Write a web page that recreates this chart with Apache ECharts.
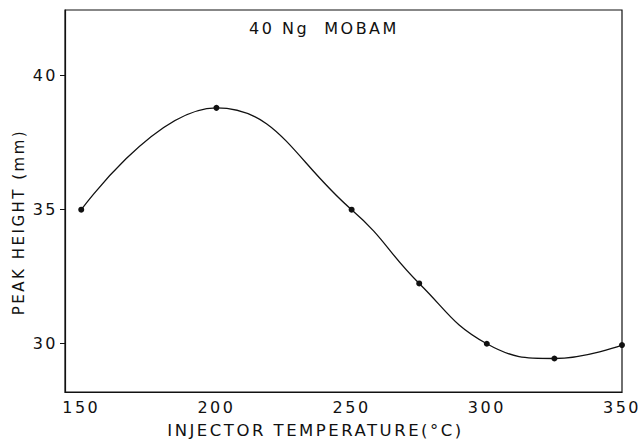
<!DOCTYPE html>
<html>
<head>
<meta charset="utf-8">
<script src="https://cdn.jsdelivr.net/npm/echarts@6/dist/echarts.min.js"></script>
<style>
  html, body { margin: 0; padding: 0; background: #fff; }
  #chart { width: 644px; height: 439px; }
  /* the original lettering is widely spaced */
  #chart text { letter-spacing: 2.5px; }
</style>
</head>
<body>
<div id="chart"></div>
<script>
// injector temperature (°C) vs peak height (mm)
var temps = [150, 200, 250, 275, 300, 325, 350];
var heights = [35.0, 38.8, 35.0, 32.25, 30.0, 29.45, 29.95];
var yTicks = [30, 35, 40];
var xTicks = [150, 200, 250, 300, 350];

var chart = echarts.init(document.getElementById('chart'), null, { renderer: 'svg' });

var font = '"DejaVu Sans", sans-serif';

var option = {
  animation: false,
  title: {
    text: '40 Ng  MOBAM',
    left: 244,
    top: 15,
    textStyle: { fontFamily: font, fontSize: 16, fontWeight: 'normal', color: '#111' }
  },
  // y title sits a bit below the plot's middle in the original
  graphic: [{
    type: 'text',
    x: 19,
    y: 222,
    rotation: Math.PI / 2,
    style: {
      text: 'PEAK HEIGHT (mm)',
      fontFamily: font,
      fontSize: 15,
      fill: '#111',
      align: 'center',
      verticalAlign: 'middle'
    }
  }],
  grid: {
    left: 65,
    right: 22,
    top: 10,
    bottom: 47,
    outerBoundsMode: 'none',
    show: true,
    borderColor: '#111',
    borderWidth: 1.2
  },
  xAxis: {
    type: 'value',
    min: 144,
    max: 350,
    interval: 50,
    name: 'INJECTOR TEMPERATURE(°C)',
    nameLocation: 'middle',
    nameGap: 30,
    nameTextStyle: { fontFamily: font, fontSize: 16.5, color: '#111', padding: [0, 56, 0, 0] },
    axisLine: { lineStyle: { color: '#111', width: 1.2 } },
    axisTick: { show: false },
    splitLine: { show: false },
    axisLabel: {
      fontFamily: font, fontSize: 16, color: '#111', margin: 7,
      customValues: xTicks
    }
  },
  yAxis: {
    type: 'value',
    min: 28.2,
    max: 42.45,
    axisLine: { show: true, lineStyle: { color: '#111', width: 1.2 } },
    axisTick: { show: true, length: 5, customValues: yTicks, lineStyle: { color: '#111' } },
    splitLine: { show: false },
    axisLabel: {
      fontFamily: font, fontSize: 16, color: '#111', margin: 7,
      customValues: yTicks
    }
  },
  series: [{
    type: 'line',
    data: temps.map(function (t, i) { return [t, heights[i]]; }),
    smooth: 0.45,
    symbol: 'circle',
    symbolSize: 6,
    itemStyle: { color: '#111' },
    lineStyle: { color: '#111', width: 1.3 }
  }]
};

chart.setOption(option);
</script>
</body>
</html>
